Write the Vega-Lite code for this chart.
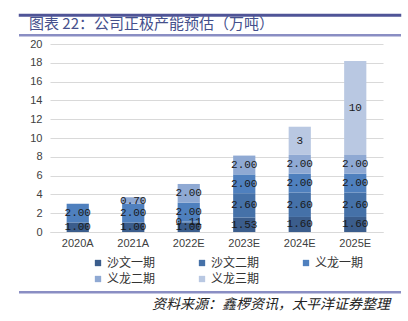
{
  "$schema": "https://vega.github.io/schema/vega-lite/v6.json",
  "padding": {"top": 13, "left": 18, "right": 9, "bottom": 4},
  "background": "white",
  "spacing": 1,
  "config": {"view": {"stroke": null}},
  "resolve": {"legend": {"color": "independent"}, "scale": {"color": "independent"}},
  "datasets": {
    "cap": [
      {"year": "2020A", "series": "沙文一期", "k": 1, "value": 1.0, "label": "1.00"},
      {"year": "2020A", "series": "义龙一期", "k": 3, "value": 2.0, "label": "2.00"},
      {"year": "2021A", "series": "沙文一期", "k": 1, "value": 1.0, "label": "1.00"},
      {"year": "2021A", "series": "义龙一期", "k": 3, "value": 2.0, "label": "2.00"},
      {"year": "2021A", "series": "义龙二期", "k": 4, "value": 0.7, "label": "0.70"},
      {"year": "2022E", "series": "沙文一期", "k": 1, "value": 1.0, "label": "1.00"},
      {"year": "2022E", "series": "沙文二期", "k": 2, "value": 0.11, "label": "0.11"},
      {"year": "2022E", "series": "义龙一期", "k": 3, "value": 2.0, "label": "2.00"},
      {"year": "2022E", "series": "义龙二期", "k": 4, "value": 2.0, "label": "2.00"},
      {"year": "2023E", "series": "沙文一期", "k": 1, "value": 1.53, "label": "1.53"},
      {"year": "2023E", "series": "沙文二期", "k": 2, "value": 2.6, "label": "2.60"},
      {"year": "2023E", "series": "义龙一期", "k": 3, "value": 2.0, "label": "2.00"},
      {"year": "2023E", "series": "义龙二期", "k": 4, "value": 2.0, "label": "2.00"},
      {"year": "2024E", "series": "沙文一期", "k": 1, "value": 1.6, "label": "1.60"},
      {"year": "2024E", "series": "沙文二期", "k": 2, "value": 2.6, "label": "2.60"},
      {"year": "2024E", "series": "义龙一期", "k": 3, "value": 2.0, "label": "2.00"},
      {"year": "2024E", "series": "义龙二期", "k": 4, "value": 2.0, "label": "2.00"},
      {"year": "2024E", "series": "义龙三期", "k": 5, "value": 3.0, "label": "3"},
      {"year": "2025E", "series": "沙文一期", "k": 1, "value": 1.6, "label": "1.60"},
      {"year": "2025E", "series": "沙文二期", "k": 2, "value": 2.6, "label": "2.60"},
      {"year": "2025E", "series": "义龙一期", "k": 3, "value": 2.0, "label": "2.00"},
      {"year": "2025E", "series": "义龙二期", "k": 4, "value": 2.0, "label": "2.00"},
      {"year": "2025E", "series": "义龙三期", "k": 5, "value": 10.0, "label": "10"}
    ]
  },
  "vconcat": [
    {
      "width": 380,
      "height": 0.5,
      "data": {"values": []},
      "mark": "point",
      "view": {"stroke": "#4f5497", "strokeWidth": 2.5},
      "title": {
        "text": "图表 22：公司正极产能预估（万吨）",
        "orient": "bottom",
        "anchor": "start",
        "dx": 9,
        "offset": 1,
        "fontSize": 15,
        "font": "Noto Sans CJK SC",
        "fontWeight": "normal",
        "color": "#45508c"
      }
    },
    {
      "width": 380,
      "height": 0.5,
      "data": {"values": []},
      "mark": "point",
      "view": {"stroke": "#8a8ec3", "strokeWidth": 2}
    },
    {
      "width": 363,
      "height": 188,
      "data": {"name": "cap"},
      "encoding": {
        "x": {
          "field": "year",
          "type": "nominal",
          "sort": null,
          "scale": {"range": [30, 363], "paddingInner": 0.6, "paddingOuter": 0.3},
          "axis": {
            "title": null,
            "labelAngle": 0,
            "ticks": false,
            "domain": true,
            "domainColor": "#d9d9d9",
            "labelFont": "Liberation Sans",
            "labelFontSize": 11,
            "labelColor": "#404040",
            "labelPadding": 5
          }
        }
      },
      "layer": [
        {
          "mark": {"type": "bar"},
          "encoding": {
            "y": {
              "field": "value",
              "type": "quantitative",
              "stack": "zero",
              "scale": {"domain": [0, 20], "nice": false},
              "axis": {
                "title": null,
                "values": [0, 2, 4, 6, 8, 10, 12, 14, 16, 18, 20],
                "domain": false,
                "ticks": false,
                "grid": true,
                "gridColor": "#d9d9d9",
                "labelOverlap": false,
                "labelFont": "Liberation Sans",
                "labelFontSize": 11,
                "labelColor": "#404040",
                "labelPadding": 8,
                "offset": -30
              }
            },
            "color": {
              "field": "series",
              "type": "nominal",
              "scale": {
                "domain": ["沙文一期", "沙文二期", "义龙一期", "义龙二期", "义龙三期"],
                "range": ["#3b5d8c", "#4571a8", "#4f80be", "#8fa9d3", "#b9c8e2"]
              },
              "legend": {
                "title": null,
                "orient": "none",
                "legendX": 67,
                "legendY": 208,
                "padding": 5,
                "direction": "horizontal",
                "columns": 3,
                "symbolType": "square",
                "symbolSize": 40,
                "symbolStrokeWidth": 0,
                "labelFont": "Noto Sans CJK SC",
                "labelFontSize": 12,
                "labelColor": "#333333",
                "labelOffset": 3,
                "columnPadding": 40,
                "rowPadding": 4,
                "gridAlign": "all"
              }
            },
            "order": {"field": "k", "type": "quantitative"}
          }
        },
        {
          "mark": {"type": "text", "font": "Liberation Mono", "fontSize": 11, "color": "#1a1a1a", "baseline": "middle"},
          "encoding": {
            "y": {
              "field": "value",
              "type": "quantitative",
              "stack": "zero",
              "bandPosition": 0.5,
              "axis": {
                "title": null,
                "values": [0, 2, 4, 6, 8, 10, 12, 14, 16, 18, 20],
                "domain": false,
                "ticks": false,
                "grid": true,
                "gridColor": "#d9d9d9",
                "labelOverlap": false,
                "labelFont": "Liberation Sans",
                "labelFontSize": 11,
                "labelColor": "#404040",
                "labelPadding": 8,
                "offset": -30
              }
            },
            "text": {"field": "label", "type": "nominal"},
            "order": {"field": "k", "type": "quantitative"}
          }
        }
      ]
    },
    {
      "width": 380,
      "height": 0.5,
      "data": {"values": []},
      "mark": "point",
      "view": {"stroke": "#8a8ec3", "strokeWidth": 2},
      "title": {
        "text": "资料来源：鑫椤资讯，太平洋证券整理",
        "orient": "bottom",
        "anchor": "end",
        "dx": -10,
        "offset": 5,
        "fontSize": 14,
        "font": "Noto Sans CJK SC",
        "fontStyle": "italic",
        "fontWeight": "normal",
        "color": "#222222"
      }
    }
  ]
}
